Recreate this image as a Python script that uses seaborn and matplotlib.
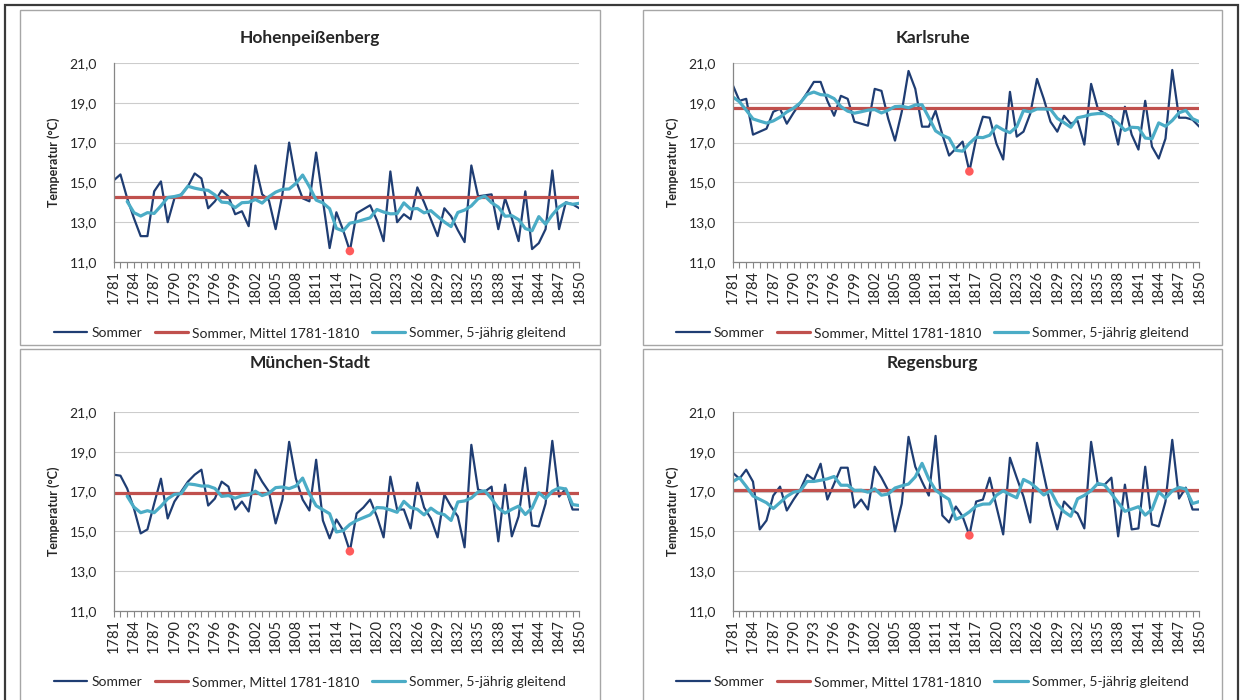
import numpy as np
import matplotlib.pyplot as plt
import pandas as pd
import seaborn as sns
from matplotlib.patches import Rectangle

years = list(range(1781, 1851))

# Sommertemperaturen (°C)
hohen = [15.1, 15.4, 14.2, 13.2, 12.3, 12.3, 14.55, 15.05, 13.0, 14.2,
         14.4, 14.8, 15.45, 15.2, 13.7, 14.05, 14.6, 14.3, 13.4, 13.55,
         12.8, 15.85, 14.4, 14.1, 12.65, 14.4, 17.0, 15.1, 14.2, 14.05,
         16.5, 14.1, 11.7, 13.5, 12.6, 11.55, 13.45, 13.65, 13.85, 13.1,
         12.05, 15.55, 13.0, 13.4, 13.15, 14.75, 14.0, 13.15, 12.3, 13.7,
         13.3, 12.6, 12.0, 15.85, 14.3, 14.35, 14.4, 12.65, 14.2, 13.2,
         12.05, 14.55, 11.65, 11.95, 12.65, 15.6, 12.65, 14.0, 13.9, 13.7]
karls = [19.9, 19.1, 19.2, 17.4, 17.55, 17.7, 18.55, 18.7, 17.95, 18.5,
         19.0, 19.5, 20.05, 20.05, 19.1, 18.35, 19.35, 19.2, 18.05, 17.95,
         17.85, 19.7, 19.6, 18.2, 17.1, 18.55, 20.6, 19.7, 17.8, 17.8,
         18.6, 17.4, 16.35, 16.7, 17.05, 15.55, 17.2, 18.3, 18.25, 16.95,
         16.15, 19.55, 17.3, 17.55, 18.45, 20.2, 19.2, 18.05, 17.55, 18.35,
         17.95, 18.1, 16.9, 19.95, 18.7, 18.45, 18.3, 16.9, 18.8, 17.4,
         16.65, 19.1, 16.8, 16.2, 17.2, 20.65, 18.25, 18.25, 18.15, 17.8]
muench = [17.85, 17.8, 17.15, 16.15, 14.9, 15.1, 16.4, 17.65, 15.65, 16.5,
          17.0, 17.5, 17.85, 18.1, 16.3, 16.65, 17.5, 17.25, 16.1, 16.5,
          16.0, 18.1, 17.5, 17.0, 15.4, 16.6, 19.5, 17.65, 16.6, 16.05,
          18.6, 15.55, 14.65, 15.6, 15.05, 14.0, 15.9, 16.2, 16.6, 15.75,
          14.7, 17.75, 16.1, 16.1, 15.15, 17.45, 16.2, 15.65, 14.7, 16.85,
          16.25, 15.75, 14.2, 19.35, 17.1, 17.0, 17.25, 14.5, 17.35, 14.75,
          15.75, 18.2, 15.3, 15.25, 16.4, 19.55, 16.75, 17.15, 16.1, 16.1]
regens = [17.95, 17.65, 18.1, 17.5, 15.1, 15.55, 16.8, 17.25, 16.05, 16.6,
          17.1, 17.85, 17.6, 18.4, 16.6, 17.4, 18.2, 18.2, 16.2, 16.6,
          16.1, 18.25, 17.7, 17.05, 15.0, 16.4, 19.75, 18.25, 17.5, 16.8,
          19.8, 15.8, 15.45, 16.25, 15.75, 14.8, 16.5, 16.6, 17.7, 16.25,
          14.85, 18.7, 17.7, 16.75, 15.45, 19.45, 17.85, 16.3, 15.1, 16.5,
          16.15, 15.9, 15.15, 19.5, 17.35, 17.35, 17.7, 14.75, 17.35, 15.1,
          15.15, 18.25, 15.35, 15.25, 16.5, 19.6, 16.65, 17.2, 16.1, 16.1]

# Mittel 1781-1810
hohen_mean = 14.25
karls_mean = 18.72
muench_mean = 16.95
regens_mean = 17.1

# 5-jährig gleitend
hohen_smooth_start = 1783
hohen_smooth = [14.04, 13.48, 13.31, 13.48, 13.44, 13.82, 14.24, 14.29,
                14.37, 14.81, 14.71, 14.64, 14.6, 14.37, 14.01, 13.98, 13.73, 13.98,
                14.0, 14.14, 13.96, 14.28, 14.51, 14.65, 14.67, 14.95, 15.37, 14.79,
                14.11, 13.97, 13.68, 12.69, 12.56, 12.95, 13.02, 13.12, 13.22, 13.64,
                13.51, 13.42, 13.43, 13.97, 13.66, 13.69, 13.47, 13.58, 13.29, 13.01,
                12.78, 13.49, 13.61, 13.82, 14.18, 14.31, 13.98, 13.76, 13.3, 13.33,
                13.13, 12.68, 12.57, 13.28, 12.9, 13.37, 13.76, 13.97, 13.9, 13.95]
karls_smooth_start = 1781
karls_smooth = [19.3, 19.05, 18.63, 18.19, 18.08, 17.98, 18.09, 18.28, 18.54, 18.73,
                19.0, 19.42, 19.54, 19.41, 19.38, 19.21, 18.81, 18.58, 18.48, 18.55,
                18.63, 18.66, 18.49, 18.63, 18.81, 18.83, 18.75, 18.89, 18.9, 18.26,
                17.59, 17.37, 17.22, 16.61, 16.57, 16.96, 17.27, 17.25, 17.37, 17.84,
                17.64, 17.5, 17.8, 18.61, 18.54, 18.69, 18.69, 18.67, 18.22, 18.0,
                17.77, 18.25, 18.32, 18.42, 18.46, 18.46, 18.23, 17.97, 17.61, 17.77,
                17.75, 17.23, 17.19, 17.99, 17.82, 18.11, 18.5, 18.62, 18.2, 18.05]
muench_smooth_start = 1783
muench_smooth = [16.77, 16.22, 15.94, 16.04, 15.94, 16.26, 16.64, 16.86,
                 16.9, 17.39, 17.35, 17.28, 17.28, 17.16, 16.76, 16.8, 16.67, 16.79,
                 16.84, 17.02, 16.8, 16.92, 17.2, 17.23, 17.15, 17.28, 17.68, 16.89,
                 16.29, 16.09, 15.89, 14.97, 15.04, 15.35, 15.55, 15.69, 15.83, 16.2,
                 16.18, 16.08, 15.96, 16.51, 16.2, 16.11, 15.83, 16.17, 15.93, 15.84,
                 15.55, 16.48, 16.53, 16.68, 16.98, 17.04, 16.64, 16.17, 15.92, 16.11,
                 16.27, 15.85, 16.18, 16.94, 16.65, 17.02, 17.19, 17.13, 16.35, 16.3]
regens_smooth_start = 1781
regens_smooth = [17.5, 17.7, 17.26, 16.78, 16.61, 16.44, 16.15, 16.45, 16.76, 16.97,
                 17.04, 17.51, 17.51, 17.57, 17.64, 17.76, 17.32, 17.32, 17.06, 17.07,
                 16.97, 17.14, 16.82, 16.88, 17.18, 17.29, 17.38, 17.74, 18.42, 17.63,
                 17.07, 16.82, 16.61, 15.61, 15.75, 15.98, 16.27, 16.37, 16.38, 16.82,
                 17.04, 16.85, 16.69, 17.61, 17.44, 17.16, 16.83, 17.04, 16.38, 15.99,
                 15.76, 16.64, 16.81, 17.05, 17.41, 17.33, 16.9, 16.45, 16.01, 16.12,
                 16.24, 15.82, 16.1, 16.99, 16.67, 17.04, 17.21, 17.13, 16.4, 16.5]

highlight_year = 1816
yticks = [11, 13, 15, 17, 19, 21]
stations = ["Hohenpeißenberg", "Karlsruhe", "München-Stadt", "Regensburg"]

sns.set_theme(style="white")
plt.rcParams['font.family'] = ['Lato', 'DejaVu Sans']

W, H = 1244, 700
fig = plt.figure(figsize=(W / 100, H / 100), dpi=100)

def fx(x):
    return x / W

def fy(y):
    return 1 - y / H

c_dark = '#1f3d73'
c_red = '#c0504d'
c_cyan = '#4bacc6'

# Rahmen
fig.patches.append(Rectangle((fx(5), fy(720)), fx(1238) - fx(5), fy(5) - fy(720),
                             transform=fig.transFigure, fill=False,
                             edgecolor='#3a3a3a', lw=1.6))
panels = [
    # title, data, mean, smooth, smooth_start, box (x0, y0, x1, y1), axes (x0, x1, ytop, ybot), title y, legend y
    (stations[0], hohen, hohen_mean, hohen_smooth, hohen_smooth_start,
     (20, 10, 600, 345), (113.7, 579.3, 63, 262), 38, 333),
    (stations[1], karls, karls_mean, karls_smooth, karls_smooth_start,
     (643, 10, 1222, 345), (732.7, 1199.3, 63, 262), 38, 333),
    (stations[2], muench, muench_mean, muench_smooth, muench_smooth_start,
     (20, 349, 600, 710), (113.7, 579.3, 412, 611), 363, 682),
    (stations[3], regens, regens_mean, regens_smooth, regens_smooth_start,
     (643, 349, 1222, 710), (732.7, 1199.3, 412, 611), 363, 682),
]

for title, vals, mean, smooth, sstart, box, ax_px, ty, ly in panels:
    bx0, by0, bx1, by1 = box
    fig.patches.append(Rectangle((fx(bx0), fy(by1)), fx(bx1) - fx(bx0), fy(by0) - fy(by1),
                                 transform=fig.transFigure, fill=False,
                                 edgecolor='#a6a6a6', lw=1.0))
    x0, x1, yt, yb = ax_px
    ax = fig.add_axes([fx(x0), fy(yb), fx(x1) - fx(x0), fy(yt) - fy(yb)])

    df = pd.DataFrame({'Jahr': years, 'Sommer': vals, 'Mittel': [mean] * len(years)})
    sm = pd.DataFrame({'Jahr': list(range(sstart, sstart + len(smooth))), 'gleitend': smooth})

    sns.lineplot(data=df, x='Jahr', y='Sommer', ax=ax, color=c_dark, lw=1.6,
                 label='Sommer')
    sns.lineplot(data=df, x='Jahr', y='Mittel', ax=ax, color=c_red, lw=2.3,
                 label='Sommer, Mittel 1781-1810')
    sns.lineplot(data=sm, x='Jahr', y='gleitend', ax=ax, color=c_cyan, lw=2.3,
                 label='Sommer, 5-jährig gleitend')
    hl = df[df['Jahr'] == highlight_year]
    sns.scatterplot(data=hl, x='Jahr', y='Sommer', ax=ax, color='#ff5b5b', s=38,
                    edgecolor='none', zorder=5, legend=False)

    ax.set_xlim(1781, 1850)
    ax.set_ylim(11, 21)
    ax.set_yticks(yticks)
    ax.set_yticklabels([f"{v:.1f}".replace('.', ',') for v in yticks], fontsize=10)
    ax.set_xticks(years[::3])
    ax.set_xticklabels([str(y) for y in years[::3]], rotation=90, fontsize=10.5)
    ax.set_xticks(years, minor=True)
    ax.tick_params(axis='x', which='both', direction='out', length=4, width=0.8,
                   color='#868686', bottom=True, pad=2)
    ax.tick_params(axis='y', length=0, pad=12)
    ax.grid(axis='y', color='#cccccc', lw=0.8)
    ax.set_axisbelow(True)
    for s in ['top', 'right']:
        ax.spines[s].set_visible(False)
    for s in ['left', 'bottom']:
        ax.spines[s].set_color('#868686')
        ax.spines[s].set_linewidth(0.9)
    ax.set_xlabel('')
    ax.set_ylabel('Temperatur (°C)', fontsize=9, fontweight='bold', labelpad=7)

    handles, labels = ax.get_legend_handles_labels()
    ax.get_legend().remove()
    fig.legend(handles, labels, loc='center', ncol=3,
               bbox_to_anchor=(fx((bx0 + bx1) / 2), fy(ly)),
               frameon=False, fontsize=10, handlelength=2.4, handletextpad=0.3,
               columnspacing=0.9)

    fig.text(fx((bx0 + bx1) / 2), fy(ty), title, ha='center', va='center',
             fontsize=12.5, fontweight='bold')

fig.savefig('out.png', dpi=100)
